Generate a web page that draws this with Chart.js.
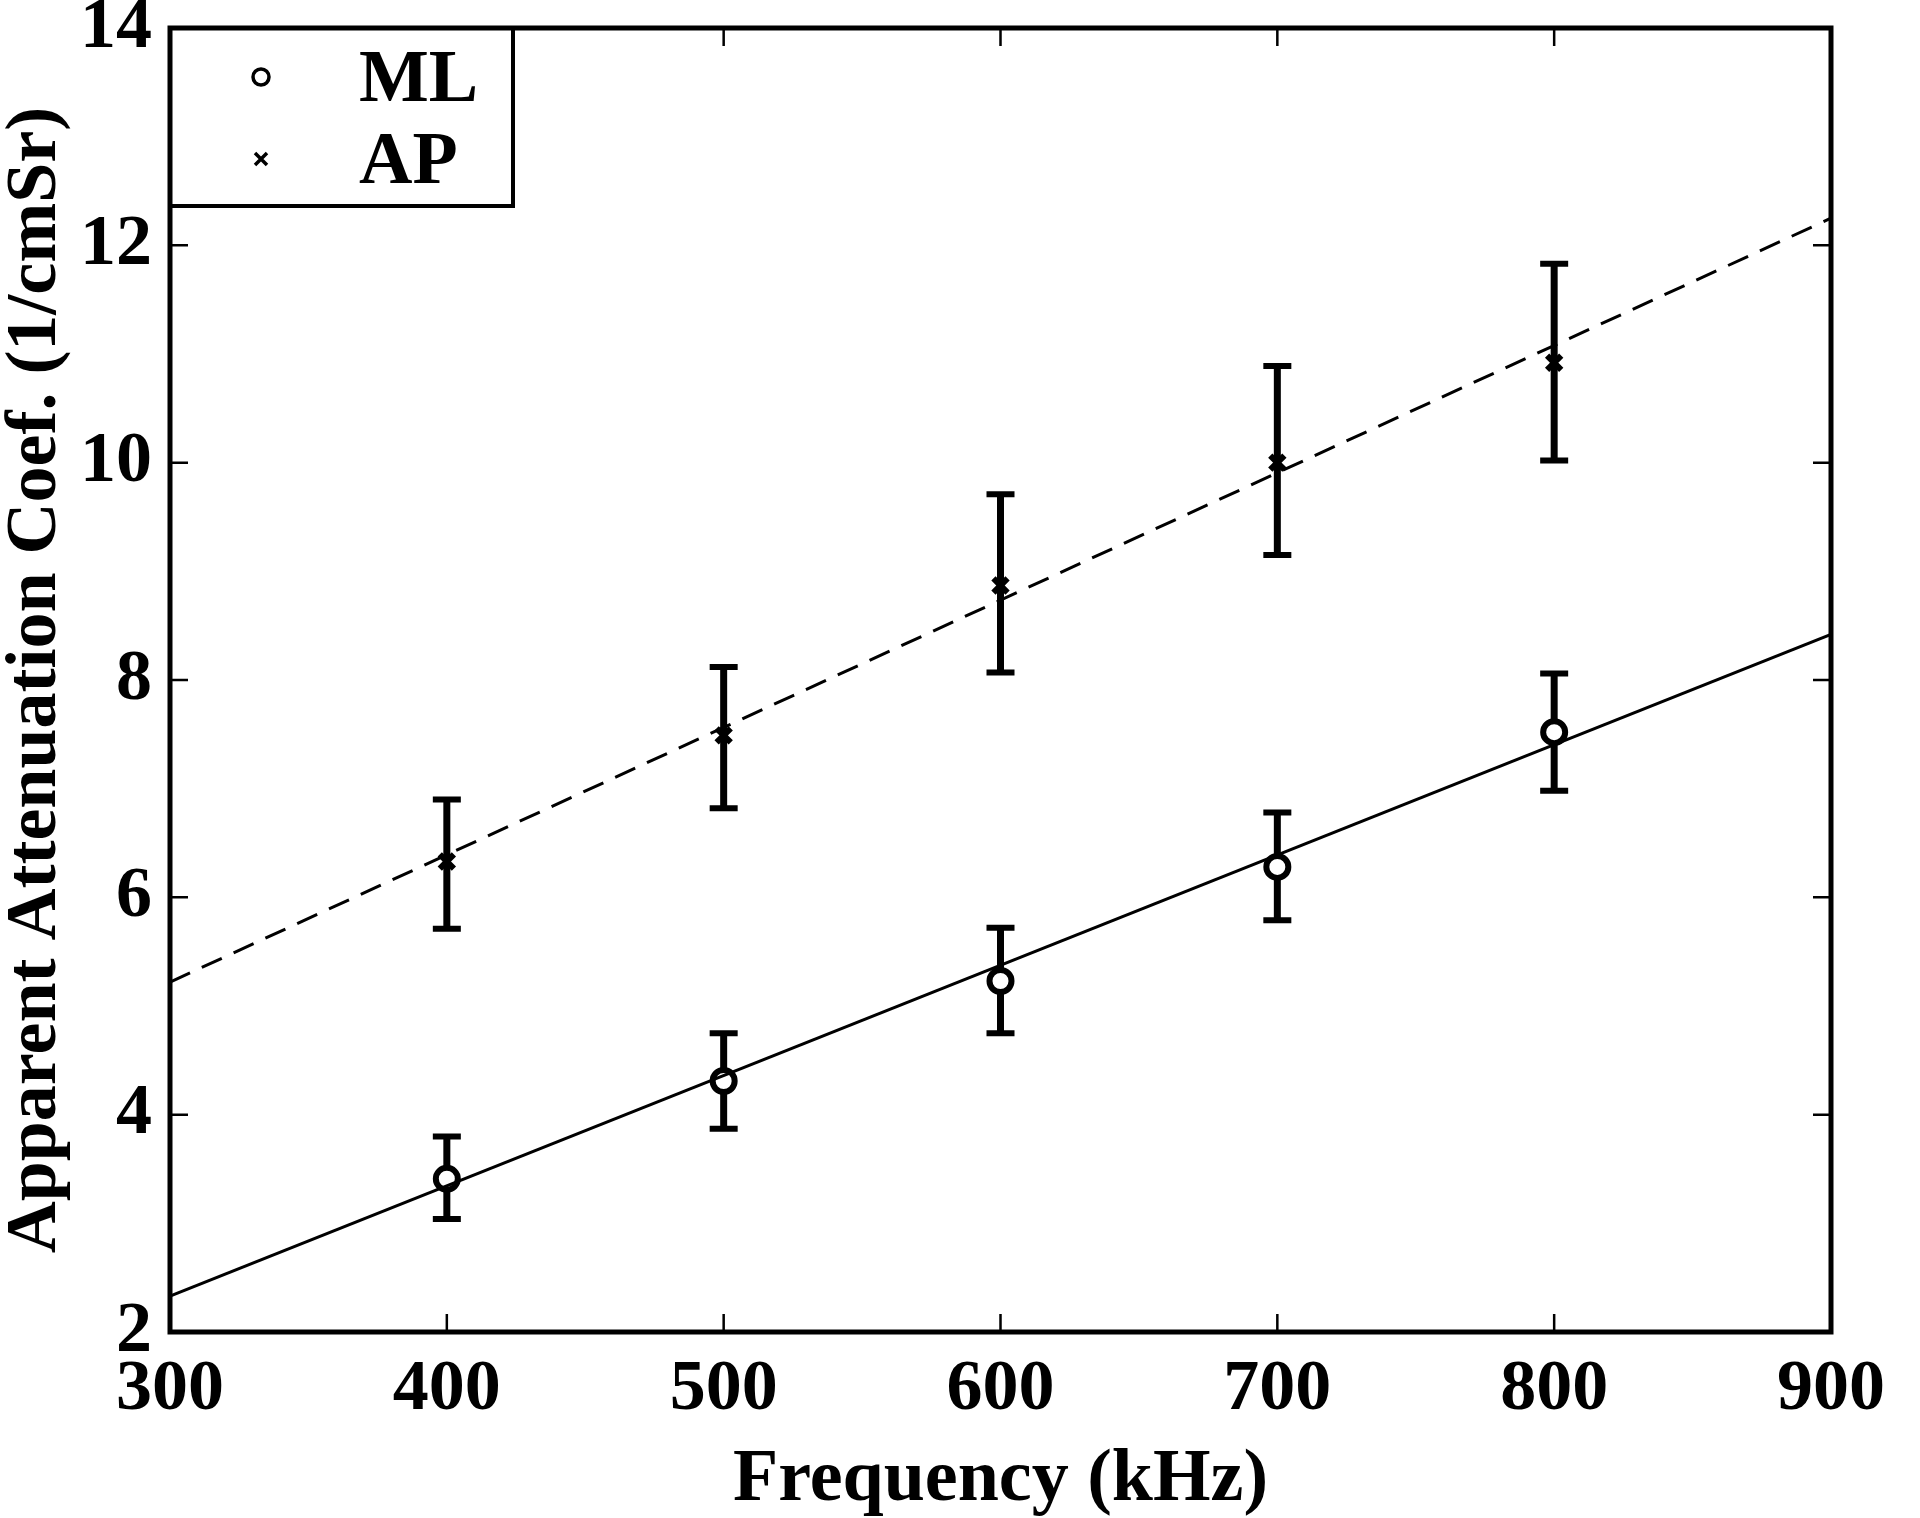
<!DOCTYPE html>
<html>
<head>
<meta charset="utf-8">
<script src="https://cdn.jsdelivr.net/npm/chart.js@4"></script>
<style>
  html, body { margin: 0; padding: 0; background: #fff; }
  #wrap { width: 1920px; height: 1518px; position: relative; }
</style>
</head>
<body>
<div id="wrap"><canvas id="attenChart"></canvas></div>
<script>
  const freqs = [400, 500, 600, 700, 800];
  const mlValues = [3.41, 4.31, 5.23, 6.28, 7.52];
  const mlUpper = [3.80, 4.75, 5.72, 6.78, 8.06];
  const mlLower = [3.04, 3.87, 4.75, 5.79, 6.98];
  const apValues = [6.33, 7.49, 8.87, 10.0, 10.92];
  const apUpper = [6.90, 8.12, 9.71, 10.89, 11.83];
  const apLower = [5.71, 6.82, 8.07, 9.15, 10.02];
  const fitX = [300, 900];
  const mlFit = [2.33, 8.42];
  const apFit = [5.22, 12.25];
  const xTicks = [300, 400, 500, 600, 700, 800, 900];
  const yTicks = [2, 4, 6, 8, 10, 12, 14];

  const serif = '"Liberation Serif", "DejaVu Serif", serif';

  function pts(xs, ys) {
    return xs.map((x, i) => ({ x: x, y: ys[i] }));
  }

  // error bars, drawn under the markers
  const errorBars = {
    id: 'errorBars',
    beforeDatasetsDraw(chart) {
      const ctx = chart.ctx;
      const xs = chart.scales.x, ys = chart.scales.y;
      const sets = [[mlLower, mlUpper], [apLower, apUpper]];
      ctx.save();
      ctx.strokeStyle = '#000';
      sets.forEach(([lo, hi]) => {
        freqs.forEach((f, i) => {
          const px = xs.getPixelForValue(f);
          const y1 = ys.getPixelForValue(lo[i]);
          const y2 = ys.getPixelForValue(hi[i]);
          ctx.lineWidth = 7;
          ctx.beginPath();
          ctx.moveTo(px, y1);
          ctx.lineTo(px, y2);
          ctx.stroke();
          ctx.lineWidth = 6;
          ctx.beginPath();
          ctx.moveTo(px - 14, y1); ctx.lineTo(px + 14, y1);
          ctx.moveTo(px - 14, y2); ctx.lineTo(px + 14, y2);
          ctx.stroke();
        });
      });
      ctx.restore();
    }
  };

  // box frame, inward ticks and legend
  const frame = {
    id: 'frame',
    afterDraw(chart) {
      const ctx = chart.ctx;
      const a = chart.chartArea;
      const xs = chart.scales.x, ys = chart.scales.y;
      ctx.save();
      ctx.strokeStyle = '#000';
      ctx.lineWidth = 2.5;
      ctx.beginPath();
      xTicks.forEach(v => {
        const px = xs.getPixelForValue(v);
        ctx.moveTo(px, a.bottom); ctx.lineTo(px, a.bottom - 18);
        ctx.moveTo(px, a.top); ctx.lineTo(px, a.top + 18);
      });
      yTicks.forEach(v => {
        const py = ys.getPixelForValue(v);
        ctx.moveTo(a.left, py); ctx.lineTo(a.left + 18, py);
        ctx.moveTo(a.right, py); ctx.lineTo(a.right - 18, py);
      });
      ctx.stroke();

      // legend
      const lx = a.left, ly = a.top, lw = 343, lh = 178;
      ctx.fillStyle = '#fff';
      ctx.fillRect(lx, ly, lw, lh);
      ctx.lineWidth = 4;
      ctx.strokeRect(lx, ly, lw, lh);

      ctx.lineWidth = 3.5;
      ctx.beginPath();
      ctx.arc(lx + 91, ly + 49, 8, 0, Math.PI * 2);
      ctx.stroke();
      ctx.beginPath();
      ctx.moveTo(lx + 85, ly + 125); ctx.lineTo(lx + 97, ly + 137);
      ctx.moveTo(lx + 97, ly + 125); ctx.lineTo(lx + 85, ly + 137);
      ctx.stroke();

      ctx.fillStyle = '#000';
      ctx.font = 'bold 74px ' + serif;
      ctx.textAlign = 'left';
      ctx.textBaseline = 'middle';
      ctx.fillText('ML', lx + 189, ly + 54);
      ctx.fillText('AP', lx + 189, ly + 136);

      ctx.lineWidth = 5;
      ctx.strokeRect(a.left, a.top, a.right - a.left, a.bottom - a.top);
      ctx.restore();
    }
  };

  document.addEventListener('DOMContentLoaded', function() {
    const ctx = document.getElementById('attenChart').getContext('2d');
    new Chart(ctx, {
      type: 'scatter',
      data: {
        datasets: [{
          label: 'ML fit',
          data: pts(fitX, mlFit),
          showLine: true,
          borderColor: '#000',
          borderWidth: 3,
          pointRadius: 0
        }, {
          label: 'AP fit',
          data: pts(fitX, apFit),
          showLine: true,
          borderColor: '#000',
          borderWidth: 3,
          borderDash: [22, 13],
          pointRadius: 0
        }, {
          label: 'ML',
          data: pts(freqs, mlValues),
          pointStyle: 'circle',
          pointRadius: 11,
          pointBorderWidth: 6,
          pointBorderColor: '#000',
          pointBackgroundColor: '#fff'
        }, {
          label: 'AP',
          data: pts(freqs, apValues),
          pointStyle: 'crossRot',
          pointRadius: 10,
          pointBorderWidth: 6,
          pointBorderColor: '#000'
        }]
      },
      options: {
        responsive: true,
        maintainAspectRatio: false,
        animation: false,
        layout: { padding: { top: 28, right: 89, bottom: 0, left: 0 } },
        plugins: {
          legend: { display: false },
          tooltip: { enabled: false }
        },
        scales: {
          x: {
            type: 'linear',
            min: 300,
            max: 900,
            grid: { display: false, drawTicks: false },
            border: { display: false },
            afterFit: s => { s.height = 186; s.paddingLeft = 0; s.paddingRight = 0; },
            afterBuildTicks: s => { s.ticks = xTicks.map(v => ({ value: v })); },
            ticks: {
              autoSkip: false,
              maxRotation: 0,
              padding: 22,
              color: '#000',
              font: { family: serif, size: 72, weight: 'bold', lineHeight: 1 }
            },
            title: {
              display: true,
              text: 'Frequency (kHz)',
              color: '#000',
              padding: 0,
              font: { family: serif, size: 74, weight: 'bold', lineHeight: 1 }
            }
          },
          y: {
            type: 'linear',
            min: 2,
            max: 14,
            grid: { display: false, drawTicks: false },
            border: { display: false },
            afterFit: s => { s.width = 170; s.paddingTop = 0; s.paddingBottom = 0; },
            afterBuildTicks: s => { s.ticks = yTicks.map(v => ({ value: v })); },
            ticks: {
              padding: 18,
              color: '#000',
              font: { family: serif, size: 72, weight: 'bold', lineHeight: 1 }
            },
            title: {
              display: true,
              text: 'Apparent Attenuation Coef. (1/cmSr)',
              color: '#000',
              padding: 0,
              font: { family: serif, size: 72, weight: 'bold', lineHeight: 1 }
            }
          }
        }
      },
      plugins: [errorBars, frame]
    });
  });
</script>
</body>
</html>
